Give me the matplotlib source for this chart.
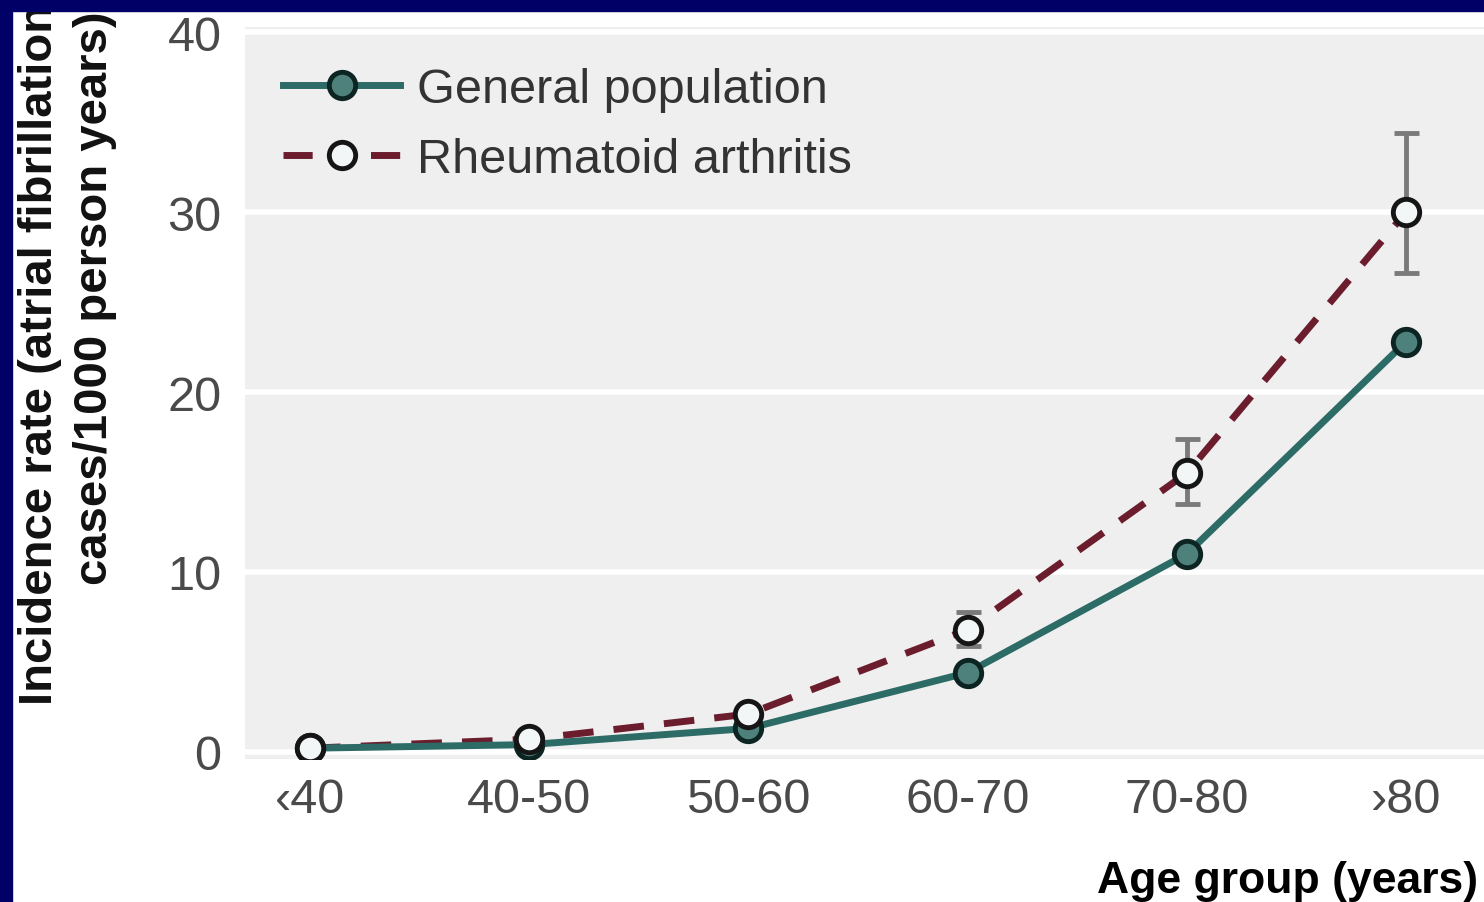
import numpy as np
import matplotlib
matplotlib.use("Agg")
import matplotlib.pyplot as plt
from matplotlib.patches import Rectangle

# data
age_groups = ["\u203940", "40-50", "50-60", "60-70", "70-80", "\u203a80"]
general_pop = [0.2, 0.4, 1.3, 4.4, 11.0, 22.8]
rheum_arth = [0.2, 0.7, 2.1, 6.8, 15.5, 30.0]
ra_ci_low = [np.nan, np.nan, np.nan, 5.9, 13.8, 26.6]
ra_ci_high = [np.nan, np.nan, np.nan, 7.8, 17.4, 34.4]
y_ticks = [0, 10, 20, 30, 40]

plt.rcParams['font.family'] = ['Liberation Sans', 'DejaVu Sans']

teal = '#2c6b66'
wine = '#6b1d2e'
gen_style = dict(marker='o', ms=19, mfc='#4f817c', mec='#0c2422', mew=3.5)
ra_style = dict(marker='o', ms=19, mfc='#f3f6f6', mec='#151515', mew=3.5)

fig = plt.figure(figsize=(14.84, 9.03), dpi=100)
fig.patch.set_facecolor('white')
ax = fig.add_axes([245 / 1484, 143 / 903, 1239 / 1484, 732 / 903])
ax.set_facecolor('#efefef')

x = np.arange(len(age_groups))
ra = np.array(rheum_arth)
err = [ra - np.array(ra_ci_low), np.array(ra_ci_high) - ra]

ax.plot(x, general_pop, color=teal, lw=5, zorder=3, **gen_style)
ax.plot(x, rheum_arth, color=wine, lw=5, ls=(0, (4.4, 2.9)), zorder=2.5)
ax.errorbar(x, rheum_arth, yerr=err, fmt='none', ecolor='#7a7a7a',
            elinewidth=3.5, capsize=9, capthick=3.5, zorder=3.5)
ax.plot(x, rheum_arth, ls='none', zorder=4, **ra_style)

# legend handles
h1, = ax.plot([], [], color=teal, lw=5, **gen_style)
h2, = ax.plot([], [], color=wine, lw=5, ls=(0, (4.2, 8.4)), **ra_style)
leg = ax.legend([h1, h2], ['General population', 'Rheumatoid arthritis'],
                loc='upper left', bbox_to_anchor=(0.031, 0.945),
                frameon=False, fontsize=35, handlelength=2.4,
                handletextpad=0.35, labelspacing=0.51, borderpad=0,
                borderaxespad=0)
for t in leg.get_texts():
    t.set_color('#333333')

ax.set_xlim(-0.297, 5.356)
ax.set_ylim(-0.4, 40.3)
ax.set_xticks(x)
ax.set_xticklabels(age_groups)
ax.set_yticks(y_ticks)
ax.grid(axis='y', color='white', lw=4)
ax.set_axisbelow(True)
ax.tick_params(length=0, labelsize=35, labelcolor='#4a4a4a')
ax.tick_params(axis='y', pad=17)
ax.tick_params(axis='x', pad=13)
for s in ax.spines.values():
    s.set_visible(False)

# axis titles placed by hand, as in the cropped original
fig.text(1478 / 1484, 1 - 882 / 903, 'Age group (years)', ha='right',
         va='center', fontsize=32, fontweight='bold', color='black')
fig.text(40 / 1484, 1 - 705 / 903, 'Incidence rate (atrial fibrillation',
         rotation=90, ha='center', va='bottom', fontsize=34,
         fontweight='bold', color='#111111')
fig.text(95 / 1484, 1 - 585 / 903, 'cases/1000 person years)',
         rotation=90, ha='center', va='bottom', fontsize=34,
         fontweight='bold', color='#111111')

# dark frame at top and left edge
fig.patches.append(Rectangle((0, 1 - 12 / 903), 1, 12 / 903,
                             transform=fig.transFigure, color='#000066',
                             zorder=10))
fig.patches.append(Rectangle((0, 0), 12 / 1484, 1,
                             transform=fig.transFigure, color='#000066',
                             zorder=10))

fig.savefig('out.png', dpi=100)
